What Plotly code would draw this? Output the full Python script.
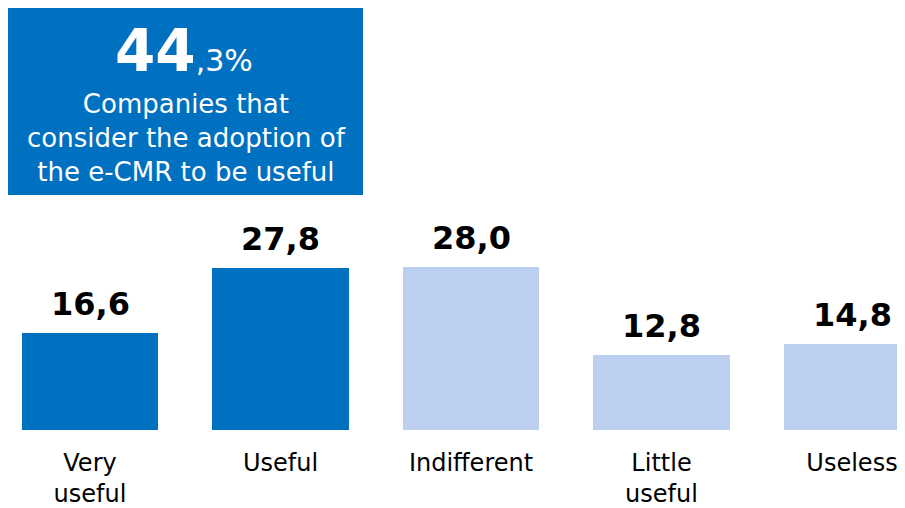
import plotly.graph_objects as go

categories = ["Very<br>useful", "Useful", "Indifferent", "Little<br>useful", "Useless"]
values = [16.6, 27.8, 28.0, 12.8, 14.8]
bar_colors = ["#0070C0", "#0070C0", "#BCCFEE", "#BCCFEE", "#BCCFEE"]
headline_int = "44"
headline_dec = ",3%"
headline_text = "Companies that<br>consider the adoption of<br>the e-CMR to be useful"

FONT = "DejaVu Sans, sans-serif"
labels = [f"{v:.1f}".replace(".", ",") for v in values]

W, H = 905, 500          # page body has an 8px margin
B = 78                   # bottom margin (baseline at y=422)
PH = H - B
SPACING = 190.5          # pixels per category
X0 = 82                  # pixel centre of first category

def px(x):
    return x / W

def py(y):
    return (PH - y) / PH

fig = go.Figure()
fig.add_trace(go.Bar(
    x=categories, y=values,
    marker=dict(color=bar_colors, line=dict(width=0)),
    width=0.714,
    hoverinfo="skip",
))

for c, v, t in zip(categories, values, labels):
    fig.add_annotation(x=c, y=v, text=f"<b>{t}</b>", showarrow=False,
                       yanchor="bottom", yshift=8,
                       font=dict(family=FONT, size=32, color="black"))

# Headline box
fig.add_shape(type="rect", xref="paper", yref="paper",
              x0=px(0), x1=px(355), y0=py(187), y1=py(0),
              fillcolor="#0070C0", line=dict(width=0), layer="above")
fig.add_annotation(xref="paper", yref="paper", x=px(176), y=py(67),
                   text=f"<b><span style='font-size:58px'>{headline_int}</span></b><span style='font-size:30px'>{headline_dec}</span>",
                   showarrow=False, xanchor="center", yanchor="bottom", yshift=-12,
                   font=dict(family=FONT, size=30, color="white"))
fig.add_annotation(xref="paper", yref="paper", x=px(178), y=py(130),
                   text=headline_text, showarrow=False, xanchor="center", yanchor="middle",
                   align="center",
                   font=dict(family=FONT, size=26, color="white"))

fig.update_layout(
    width=W, height=H,
    margin=dict(l=0, r=0, t=0, b=B),
    paper_bgcolor="white", plot_bgcolor="white",
    showlegend=False,
    bargap=0,
    xaxis=dict(range=[-X0 / SPACING, (W - X0) / SPACING], showgrid=False, zeroline=False, showline=False,
               ticks="", tickfont=dict(family=FONT, size=24, color="black"),
               ticklabelstandoff=16, fixedrange=True),
    yaxis=dict(range=[0, PH / 5.83], visible=False, fixedrange=True),
)

fig.write_html("out.html")
